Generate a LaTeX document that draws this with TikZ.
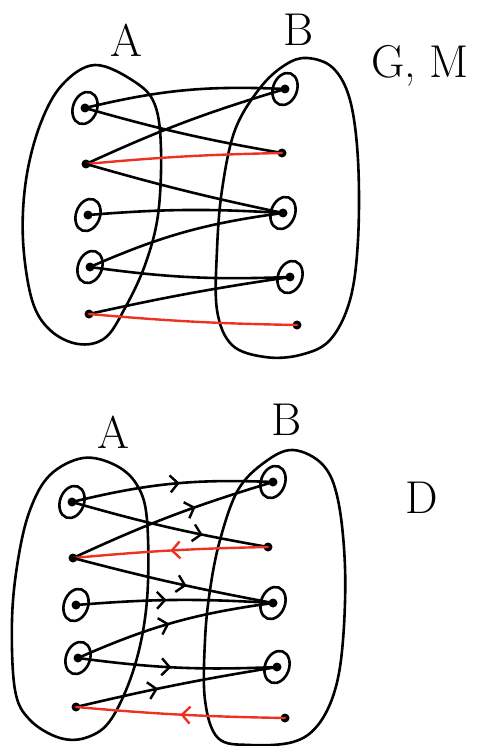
\documentclass[tikz,border=0pt]{standalone}
\usetikzlibrary{shapes.geometric,arrows.meta,decorations.markings}
\definecolor{ink}{RGB}{0,0,0}
\definecolor{redink}{RGB}{235,50,35}
\tikzset{
  pen/.style={line width=2.6pt, line cap=round, line join=round, draw=ink},
  redpen/.style={line width=2.4pt, line cap=round, line join=round, draw=redink},
  dot/.style={circle, fill=ink, inner sep=0pt, minimum size=9pt},
  ring/.style={ellipse, draw=ink, line width=2.6pt, inner sep=0pt,
               minimum width=24pt, minimum height=33pt, rotate=-20},
  lbl/.style={font=\fontsize{46}{46}\selectfont, inner sep=0pt},
  fwd/.style={postaction={decorate}, decoration={markings,
     mark=at position #1 with {\arrow[ink,line width=2.4pt]{Straight Barb[length=8pt,width=17pt]}}}},
  bwd/.style={postaction={decorate}, decoration={markings,
     mark=at position #1 with {\arrowreversed[redink,line width=2.4pt]{Straight Barb[length=8pt,width=17pt]}}}},
}
\begin{document}
\begin{tikzpicture}[x=1pt,y=-1pt]
\useasboundingbox (0,0) rectangle (478,746);

% ---------- upper pair of sets ----------
\node[lbl] (tA) at (126,40) {A};
\node[lbl] (tB) at (299,30) {B};
\node[lbl] (tGM) at (420,66) {G, M};

\draw[pen] plot[smooth cycle, tension=0.6] coordinates {
  (95,65) (135,82) (155,105) (161,150) (158,215) (145,265) (125,308)
  (105,338) (78,344) (50,330) (32,300) (23,240) (26,180) (40,125) (62,85)};
\draw[pen] plot[smooth cycle, tension=0.6] coordinates {
  (307,58) (333,68) (350,100) (358,160) (358,240) (350,300) (330,340)
  (300,355) (265,357) (232,345) (217,310) (217,250) (222,190) (235,130)
  (260,88) (285,65)};

\node[dot] (ta1) at (85,108) {};
\node[dot] (ta2) at (86,164) {};
\node[dot] (ta3) at (88,215) {};
\node[dot] (ta4) at (90,267) {};
\node[dot] (ta5) at (89,314) {};
\node[dot] (tb1) at (285,89) {};
\node[dot] (tb2) at (282,153) {};
\node[dot] (tb3) at (283,213) {};
\node[dot] (tb4) at (290,277) {};
\node[dot] (tb5) at (297,325) {};
\node[ring] (ta1r) at (ta1) {};
\node[ring] (ta3r) at (ta3) {};
\node[ring] (ta4r) at (ta4) {};
\node[ring] (tb1r) at (tb1) {};
\node[ring] (tb3r) at (tb3) {};
\node[ring] (tb4r) at (tb4) {};

\draw[pen] (ta1.center) to[bend left=8] (tb1.center);
\draw[pen] (ta1.center) to[bend right=3] (tb2.center);
\draw[pen] (ta2.center) to[bend left=4] (tb1.center);
\draw[redpen] (ta2.center) to[bend left=2] (tb2.center);
\draw[pen] (ta2.center) to[bend right=2] (tb3.center);
\draw[pen] (ta3.center) to[bend left=4] (tb3.center);
\draw[pen] (ta4.center) to[bend left=8] (tb3.center);
\draw[pen] (ta4.center) to[bend right=5] (tb4.center);
\draw[pen] (ta5.center) to[bend left=2] (tb4.center);
\draw[redpen] (ta5.center) to[bend right=2] (tb5.center);

% ---------- lower pair of sets ----------
\node[lbl] (bA) at (113,432) {A};
\node[lbl] (bB) at (287,420) {B};
\node[lbl] (bD) at (422,498) {D};

\draw[pen] plot[smooth cycle, tension=0.6] coordinates {
  (83,458) (115,465) (137,485) (147,520) (147,600) (135,665) (112,718)
  (88,737) (60,738) (30,720) (15,690) (12,620) (18,560) (30,510) (50,475)};
\draw[pen] plot[smooth cycle, tension=0.6] coordinates {
  (293,450) (323,465) (338,500) (345,567) (343,640) (335,690) (318,725)
  (293,742) (250,745) (218,738) (205,700) (205,640) (210,590) (220,540)
  (238,490) (265,462)};

\node[dot] (ba1) at (72,502) {};
\node[dot] (ba2) at (73,558) {};
\node[dot] (ba3) at (76,605) {};
\node[dot] (ba4) at (78,658) {};
\node[dot] (ba5) at (76,707) {};
\node[dot] (bb1) at (273,482) {};
\node[dot] (bb2) at (268,547) {};
\node[dot] (bb3) at (273,603) {};
\node[dot] (bb4) at (277,667) {};
\node[dot] (bb5) at (285,718) {};
\node[ring] (ba1r) at (ba1) {};
\node[ring] (ba3r) at (ba3) {};
\node[ring] (ba4r) at (ba4) {};
\node[ring] (bb1r) at (bb1) {};
\node[ring] (bb3r) at (bb3) {};
\node[ring] (bb4r) at (bb4) {};

\draw[pen, fwd=0.54] (ba1.center) to[bend left=8] (bb1.center);
\draw[pen, fwd=0.67] (ba1.center) to[bend right=3] (bb2.center);
\draw[pen, fwd=0.62] (ba2.center) to[bend left=4] (bb1.center);
\draw[redpen, bwd=0.5] (ba2.center) to[bend left=2] (bb2.center);
\draw[pen, fwd=0.57] (ba2.center) to[bend right=2] (bb3.center);
\draw[pen, fwd=0.46] (ba3.center) to[bend left=4] (bb3.center);
\draw[pen, fwd=0.48] (ba4.center) to[bend left=8] (bb3.center);
\draw[pen, fwd=0.47] (ba4.center) to[bend right=5] (bb4.center);
\draw[pen, fwd=0.41] (ba5.center) to[bend left=2] (bb4.center);
\draw[redpen, bwd=0.5] (ba5.center) to[bend right=2] (bb5.center);
\end{tikzpicture}
\end{document}
